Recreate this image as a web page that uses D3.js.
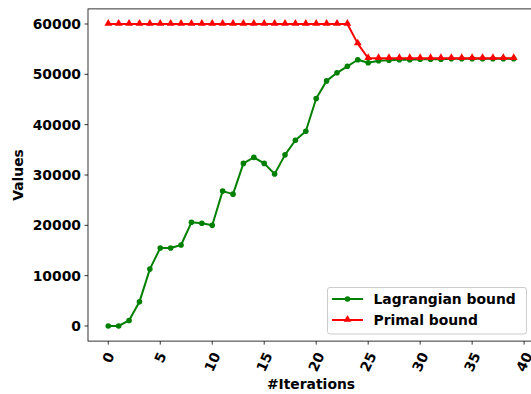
<!DOCTYPE html>
<html><head><meta charset="utf-8">
<script src="https://cdn.jsdelivr.net/npm/d3@7"></script>
<style>
html,body{margin:0;padding:0;background:#fff;overflow:hidden}
text{font-family:"DejaVu Sans",sans-serif;font-weight:bold;fill:#000}
</style></head>
<body><svg id="c" width="531" height="394"></svg>
<script>
const iterations = d3.range(0, 40);
const lagrangian = [0, 0, 1100, 4800, 11300, 15500, 15500, 16100, 20600, 20400,
  20000, 26800, 26200, 32300, 33500, 32300, 30200, 34000, 36900, 38700,
  45200, 48700, 50300, 51600, 52900, 52300, 52700, 52800, 52900, 52900,
  53000, 53000, 53000, 53100, 53100, 53100, 53100, 53100, 53100, 53100];
const primal = [60000, 60000, 60000, 60000, 60000, 60000, 60000, 60000, 60000, 60000,
  60000, 60000, 60000, 60000, 60000, 60000, 60000, 60000, 60000, 60000,
  60000, 60000, 60000, 60000, 56100, 53200, 53200, 53200, 53200, 53200,
  53200, 53200, 53200, 53200, 53200, 53200, 53200, 53200, 53200, 53200];
const xTicks = [0, 5, 10, 15, 20, 25, 30, 35, 40];
const yTicks = [0, 10000, 20000, 30000, 40000, 50000, 60000];
const seriesNames = ["Lagrangian bound", "Primal bound"];
const seriesColors = ["#008000", "#ff0000"];

const L = 88, R = 534, T = 8.9, B = 341.1;
const svg = d3.select("#c");
const x = d3.scaleLinear().domain([-1.95, 40.95]).range([L, R]);
const y = d3.scaleLinear().domain([-3000, 63000]).range([B, T]);
const fs = 13.9;

// axes frame
const g = svg.append("g");
g.append("rect").attr("x", L).attr("y", T).attr("width", R - L).attr("height", B - T)
  .attr("fill", "none").attr("stroke", "#000").attr("stroke-width", 0.8);

// y axis
yTicks.forEach(v => {
  const yy = y(v);
  g.append("line").attr("x1", L - 3.5).attr("x2", L).attr("y1", yy).attr("y2", yy)
    .attr("stroke", "#000").attr("stroke-width", 0.8);
  g.append("text").attr("x", L - 7).attr("y", yy).attr("text-anchor", "end")
    .attr("dominant-baseline", "central").style("font-size", fs + "px").text(v);
});
g.append("text").attr("transform", `translate(17.5,${(T + B) / 2}) rotate(-90)`)
  .attr("text-anchor", "middle").attr("dominant-baseline", "central")
  .style("font-size", fs + "px").text("Values");

// x axis
const ang = 65, rad = ang * Math.PI / 180;
xTicks.forEach(v => {
  const xx = x(v);
  g.append("line").attr("x1", xx).attr("x2", xx).attr("y1", B).attr("y2", B + 3.5)
    .attr("stroke", "#000").attr("stroke-width", 0.8);
  const t = g.append("text").attr("text-anchor", "middle").attr("dominant-baseline", "central")
    .style("font-size", fs + "px").text(v);
  const w = t.node().getComputedTextLength();
  const H = w * Math.sin(rad) + 10 * Math.cos(rad);
  t.attr("transform", `translate(${xx},${B + 10 + H / 2}) rotate(${-ang})`);
});
g.append("text").attr("x", (L + R) / 2).attr("y", 389).attr("text-anchor", "middle")
  .style("font-size", fs + "px").text("#Iterations");

// lines
const line = d3.line().x((d, i) => x(iterations[i])).y(d => y(d));
const tri = d3.symbol().type(d3.symbolTriangle).size(26);
function drawSeries(data, color, marker) {
  g.append("path").datum(data).attr("d", line).attr("fill", "none")
    .attr("stroke", color).attr("stroke-width", 2).attr("stroke-linejoin", "round");
  data.forEach((d, i) => {
    if (marker === "circle") {
      g.append("circle").attr("cx", x(iterations[i])).attr("cy", y(d)).attr("r", 2.8).attr("fill", color);
    } else {
      g.append("path").attr("d", tri).attr("transform", `translate(${x(iterations[i])},${y(d) - 0.5})`).attr("fill", color);
    }
  });
}
drawSeries(lagrangian, seriesColors[0], "circle");
drawSeries(primal, seriesColors[1], "triangle");

// legend
const lg = svg.append("g");
lg.append("rect").attr("x", 327.5).attr("y", 287.5).attr("width", 199).attr("height", 46.5)
  .attr("rx", 2.5).attr("fill", "#fff").attr("fill-opacity", 0.8)
  .attr("stroke", "#ccc").attr("stroke-width", 1);
seriesNames.forEach((n, i) => {
  const yy = 299 + i * 21;
  lg.append("line").attr("x1", 332).attr("x2", 363).attr("y1", yy).attr("y2", yy)
    .attr("stroke", seriesColors[i]).attr("stroke-width", 2);
  if (i === 0) lg.append("circle").attr("cx", 347.5).attr("cy", yy).attr("r", 2.8).attr("fill", seriesColors[i]);
  else lg.append("path").attr("d", tri).attr("transform", `translate(347.5,${yy - 0.5})`).attr("fill", seriesColors[i]);
  lg.append("text").attr("x", 373.5).attr("y", yy).attr("dominant-baseline", "central")
    .style("font-size", fs + "px").text(n);
});
</script></body></html>
